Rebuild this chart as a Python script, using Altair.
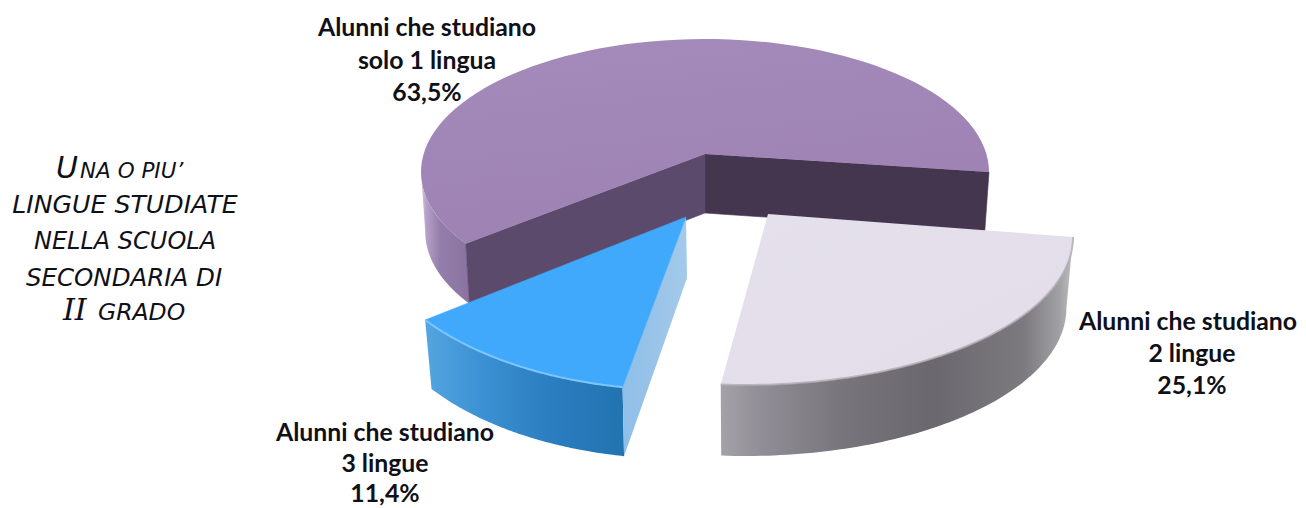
import math
import altair as alt
import pandas as pd

categories = ["solo 1 lingua", "2 lingue", "3 lingue"]
values = [63.5, 25.1, 11.4]
value_labels = ["63,5%", "25,1%", "11,4%"]
label_head = "Alunni che studiano"
title_big = ["U", "II"]
title_small = ["NA O PIU’", "LINGUE STUDIATE", "NELLA SCUOLA", "SECONDARIA DI", "GRADO"]

X = alt.X("x:Q", scale=alt.Scale(domain=[8, 1298], range=[0, 1290]), axis=None)
Y = alt.Y("y:Q", scale=alt.Scale(domain=[8, 508], range=[0, 500]), axis=None)


def arc(e, start, sweep, n=80):
    return [
        (e["cx"] + e["a"] * math.cos(math.radians(start + sweep * i / n)),
         e["cy"] - e["b"] * math.sin(math.radians(start + sweep * i / n)))
        for i in range(n + 1)
    ]


def drop(points, e, depth, shrink):
    return [(e["cx"] + (x - e["cx"]) * shrink, y + depth) for x, y in points]


def grad(colors, x2=1, y2=0):
    return alt.LinearGradient(
        gradient="linear", x1=0, y1=0, x2=x2, y2=y2,
        stops=[alt.GradientStop(color=c, offset=o) for o, c in colors],
    )


def shape(points, fill, close=True):
    pts = list(points) + ([points[0]] if close else [])
    df = pd.DataFrame({"x": [p[0] for p in pts], "y": [p[1] for p in pts], "i": range(len(pts))})
    stroke = fill if isinstance(fill, str) else None
    kw = {"stroke": stroke, "strokeWidth": 0.6} if stroke else {"strokeWidth": 0}
    return alt.Chart(df).mark_line(fill=fill, interpolate="linear", **kw).encode(x=X, y=Y, order="i:Q")


def rim(points, color, width, opacity=1.0):
    df = pd.DataFrame({"x": [p[0] for p in points], "y": [p[1] for p in points], "i": range(len(points))})
    return alt.Chart(df).mark_line(color=color, strokeWidth=width, opacity=opacity).encode(x=X, y=Y, order="i:Q")


def text(t, x, y, size, font, weight="normal", style="normal", align="center", color="#101018"):
    df = pd.DataFrame({"x": [x], "y": [y], "t": [t]})
    return alt.Chart(df).mark_text(
        font=font, fontSize=size, fontWeight=weight, fontStyle=style, align=align,
        baseline="alphabetic", color=color,
    ).encode(x=X, y=Y, text="t:N")


layers = []

# purple slice (back)
e1 = dict(cx=705, cy=172, a=284, b=133)
apex1 = (705, 154)
sw1 = values[0] * 3.6 * 0.93
top1 = arc(e1, 0, sw1)
d1 = 60
wall1 = arc(e1, 180, sw1 - 180)
layers.append(shape(wall1 + drop(wall1, e1, d1, 0.985)[::-1],
                    grad([(0, "#D3C6DF"), (0.12, "#B39FC7"), (0.4, "#937DAA"), (1, "#8A749F")])))
lc, lcb = top1[-1], drop([top1[-1]], e1, d1, 0.985)[0]
rc, rcb = top1[0], drop([top1[0]], e1, d1, 0.985)[0]
apex1b = (apex1[0], apex1[1] + 59)
layers.append(shape([apex1, rc, rcb, apex1b], "#453650"))
layers.append(shape([apex1, lc, lcb, apex1b], "#5C4A6C"))
layers.append(shape([apex1] + top1, grad([(0, "#A48BBA"), (1, "#9D82B3")], x2=0.3, y2=1)))

# lavender slice (right)
e2 = dict(cx=745, cy=237, a=328, b=148)
apex2 = (768, 214)
sw2 = values[1] * 3.6 * 1.043
top2 = arc(e2, 0, -sw2)
wall2 = drop(top2, e2, 71, 0.98)
layers.append(shape(top2 + wall2[::-1],
                    grad([(0, "#A5A1A8"), (0.12, "#918D96"), (0.35, "#78747B"),
                          (0.6, "#6A676E"), (0.86, "#7C797F"), (0.96, "#A0A0A2"), (1, "#BDBDBD")])))
layers.append(shape([apex2] + top2, grad([(0, "#E5E1EC"), (1, "#E2DDE8")], x2=1, y2=1)))
layers.append(rim(top2, "#AFABB3", 2.0, 0.8))

# blue slice (front left)
e3 = dict(cx=680, cy=220, a=315, b=170)
apex3 = (686, 217)
sw3 = values[2] * 3.6 * 1.06
top3 = arc(e3, 216, sw3)
wall3 = drop(top3, e3, 69, 0.975)
layers.append(shape(top3 + wall3[::-1],
                    grad([(0, "#54A5E0"), (0.3, "#3A90D2"), (0.65, "#2A7DBE"), (1, "#2273B0")])))
apex3b = (687, 278)
layers.append(shape([apex3, top3[-1], wall3[-1], apex3b],
                    grad([(0, "#8FBFE8"), (0.5, "#99C3E8"), (1, "#A3CAEA")])))
layers.append(shape([apex3] + top3, "#41A9FB"))
layers.append(rim(top3, "#7CC6FF", 2.0))

# slice labels (the right-hand head line is nudged in so it stays inside the canvas)
label_pos = [(427, 427, [36, 69, 101]), (1188, 1192, [330, 362, 394]), (385, 385, [441, 472, 502])]
for cat, val, (hx, cx, ys) in zip(categories, value_labels, label_pos):
    layers.append(text(label_head, hx, ys[0], 24.8, "Lato", weight="bold"))
    for t, y in zip([cat, val], ys[1:]):
        layers.append(text(t, cx, y, 24.8, "Lato", weight="bold"))

# left title, small-caps built from two sizes
sans = "DejaVu Sans"
layers.append(text(title_big[0], 56, 178, 30, sans, style="italic", align="left"))
layers.append(text(title_small[0], 80, 178, 21.5, sans, style="italic", align="left"))
layers.append(text(title_small[1], 125, 213, 25.2, sans, style="italic"))
layers.append(text(title_small[2], 125, 249, 24, sans, style="italic"))
layers.append(text(title_small[3], 124, 286, 24.5, sans, style="italic"))
layers.append(text(title_big[1], 63, 320, 30, "DejaVu Serif", style="italic", align="left"))
layers.append(text(title_small[4], 98, 320, 23.5, sans, style="italic", align="left"))

chart = alt.layer(*layers).properties(
    width=1290, height=500, padding=0,
    autosize=alt.AutoSizeParams(type="none"), background="white",
).configure_view(stroke=None)

chart.save("out.html", embed_options={"renderer": "svg", "actions": False})
